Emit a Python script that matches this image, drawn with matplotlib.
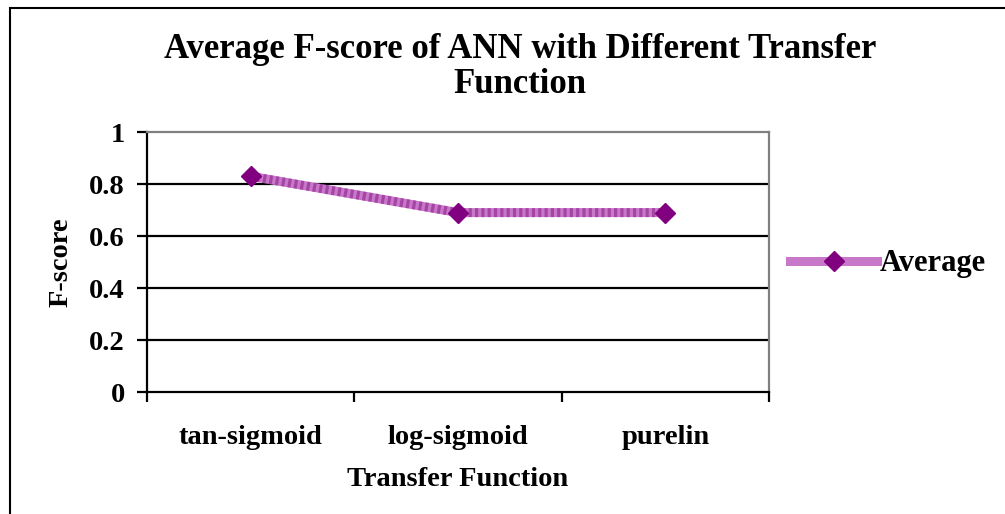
import matplotlib
matplotlib.use("Agg")
import matplotlib.pyplot as plt
from matplotlib.patches import Rectangle
from matplotlib.lines import Line2D

categories = ["tan-sigmoid", "log-sigmoid", "purelin"]
average = [0.83, 0.69, 0.69]
yticks = [0, 0.2, 0.4, 0.6, 0.8, 1]
ytick_labels = ["0", "0.2", "0.4", "0.6", "0.8", "1"]

plt.rcParams['font.family'] = ['Liberation Serif', 'DejaVu Serif']
plt.rcParams['font.weight'] = 'bold'

W, H = 1005, 514
fig = plt.figure(figsize=(W / 100, H / 100), dpi=100)
fig.patch.set_facecolor('white')

# outer frame
fig.add_artist(Rectangle((10 / W, -0.1), 1.2, (H - 8) / H + 0.1,
                         transform=fig.transFigure, fill=False,
                         edgecolor='black', linewidth=1.5))

ax = fig.add_axes([147 / W, 1 - 392 / H, (769 - 147) / W, (392 - 132) / H])

x = list(range(len(categories)))
ax.set_xlim(-0.5, len(categories) - 0.5)
ax.set_ylim(0, 1)

for yv in yticks[1:-1]:
    ax.axhline(yv, color='black', linewidth=1.6, zorder=1)

color_base = '#c878c8'
color_dots = '#8a1a8a'
ax.plot(x, average, color=color_base, linewidth=6.5, solid_capstyle='butt', zorder=3)
ax.plot(x, average, color=color_dots, linewidth=6.5, linestyle=(0, (0.35, 0.35)),
        dash_capstyle='butt', alpha=0.55, zorder=4)
ax.plot(x, average, linestyle='none', marker='D', markersize=10,
        color='#800080', markeredgecolor='#800080', zorder=5)

ax.set_yticks(yticks)
ax.set_yticklabels(ytick_labels)
ax.set_xticks([i - 0.5 for i in range(len(categories) + 1)])
ax.set_xticklabels([])
ax.set_xticks(x, minor=True)
ax.set_xticklabels(categories, minor=True)
ax.tick_params(axis='x', which='minor', length=0, pad=24, labelsize=20.5)
ax.tick_params(axis='x', which='major', length=7, width=1.6, direction='out', color='black')
ax.tick_params(axis='y', length=7, width=1.6, direction='out', pad=9, labelsize=20.5)

for lbl in ax.get_xticklabels(minor=True) + ax.get_yticklabels():
    lbl.set_fontweight('bold')

ax.spines['left'].set_color('black')
ax.spines['left'].set_linewidth(1.6)
ax.spines['bottom'].set_color('black')
ax.spines['bottom'].set_linewidth(1.6)
ax.spines['top'].set_color('#808080')
ax.spines['top'].set_linewidth(1.6)
ax.spines['right'].set_color('#808080')
ax.spines['right'].set_linewidth(1.6)

ax.set_xlabel("Transfer Function", fontsize=20.5, fontweight='bold', labelpad=12)
ax.set_ylabel("F-score", fontsize=20.5, fontweight='bold', labelpad=11)

fig.text(520 / W, 1 - 67 / H, "Average F-score of ANN with Different Transfer\nFunction",
         ha='center', va='center', fontsize=25, fontweight='bold', linespacing=1.08)

handle = [Line2D([0], [0], color=color_base, linewidth=6.5, marker='D', markersize=10,
                 markerfacecolor='#800080', markeredgecolor='#800080')]
fig.legend(handle, ["Average"], loc='center left', bbox_to_anchor=(790 / W, 1 - 264 / H),
           frameon=False, handlelength=2.85, handletextpad=0.1, borderpad=0, borderaxespad=0,
           prop={'weight': 'bold', 'size': 22, 'family': ['Liberation Serif']})

fig.savefig("out.png", dpi=100, facecolor='white')
